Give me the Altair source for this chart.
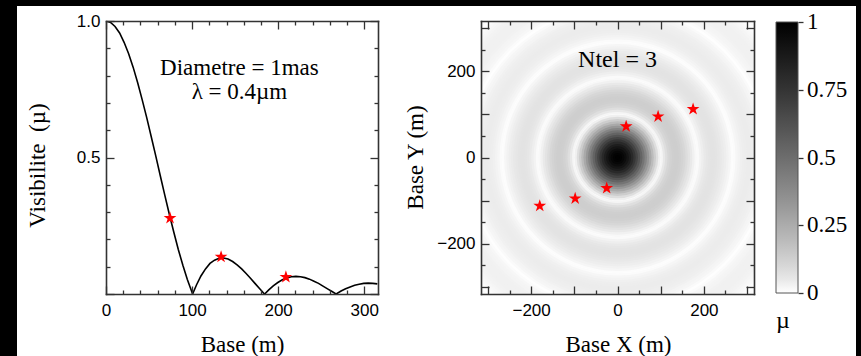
import altair as alt
import pandas as pd

SERIF = "Liberation Serif"
SANS = "Liberation Sans"
FRAME = "#333333"

# ---- visibility profile (base in m, visibility) ----
BASE_M = [0, 5.3, 10.5, 15.8, 21.0, 26.3, 31.5, 36.8, 42.0, 47.3, 52.5, 57.8, 63.0,
          68.3, 73.5, 78.8, 84.0, 89.3, 94.5, 99.8, 100.6, 105.1, 110.3, 115.6, 120.8,
          126.1, 131.3, 136.6, 141.8, 147.1, 152.3, 157.6, 162.8, 168.1, 173.3, 178.6,
          183.8, 184.3, 189.1, 194.3, 199.6, 204.9, 210.1, 215.4, 220.6, 225.9, 231.1,
          236.4, 241.6, 246.9, 252.1, 257.4, 262.6, 267.2, 267.9, 273.1, 278.4, 283.6,
          288.9, 294.1, 299.4, 304.6, 309.9, 315.2]
VIS = [1.0, 0.995, 0.980, 0.956, 0.922, 0.880, 0.831, 0.774, 0.712, 0.646, 0.577, 0.506,
       0.434, 0.362, 0.293, 0.226, 0.163, 0.105, 0.053, 0.007, 0.0, 0.033, 0.066, 0.092,
       0.112, 0.124, 0.131, 0.132, 0.128, 0.119, 0.107, 0.092, 0.075, 0.057, 0.038, 0.019,
       0.001, 0.0, 0.015, 0.030, 0.042, 0.052, 0.059, 0.063, 0.0645, 0.063, 0.060, 0.0545,
       0.047, 0.039, 0.029, 0.019, 0.009, 0.0, 0.001, 0.011, 0.019, 0.026, 0.032, 0.036,
       0.039, 0.040, 0.039, 0.037]
# continuation of the profile for the corners of the (u,v) map
BASE_OUTER = [320.4, 325.7, 330.9, 336.2, 341.4, 346.7, 349.9, 351.9, 357.2, 362.4, 367.7,
              372.9, 378.2, 383.4, 388.7, 393.9, 399.2, 404.4, 409.7, 415.0, 420.2, 425.5,
              430.7, 432.6, 436.0, 441.2, 446.5, 451.7]
VIS_OUTER = [0.0337, 0.0291, 0.0236, 0.0174, 0.0108, 0.0041, 0.0, 0.0025, 0.0087, 0.0143,
             0.0191, 0.0229, 0.0257, 0.0274, 0.0279, 0.0273, 0.0257, 0.0232, 0.0198, 0.0158,
             0.0113, 0.0065, 0.0017, 0.0, 0.0030, 0.0075, 0.0115, 0.0149]

# ---- measured points (stars) ----
STAR_BASE = [74.4, 133.7, 209.0]
STAR_VIS = [0.278, 0.136, 0.062]
STAR_U = [20, 94, 175, -25, -98, -180]
STAR_V = [72, 95, 112, -71, -95, -112]

# ---- annotations ----
LEFT_TEXT = ["Diametre = 1mas", "\u03bb = 0.4\u00b5m"]
LEFT_TEXT_X = [155, 155]
LEFT_TEXT_Y = [0.828, 0.74]
RIGHT_TEXT = ["Ntel = 3"]
RIGHT_TEXT_X = [0]
RIGHT_TEXT_Y = [225]

X_TICKS_LEFT = [0, 20, 40, 60, 80, 100, 120, 140, 160, 180, 200, 220, 240, 260, 280, 300]
Y_TICKS_LEFT = [0, 0.1, 0.2, 0.3, 0.4, 0.5, 0.6, 0.7, 0.8, 0.9, 1.0]
UV_TICKS = [-300, -250, -200, -150, -100, -50, 0, 50, 100, 150, 200, 250, 300]
CBAR_TICKS = [0, 0.25, 0.5, 0.75, 1]
CBAR_LABEL_POS = [0.0005, 0.25, 0.5, 0.75, 0.9995]
# grey ramp of the colour bar (mu -> grey)
RAMP_MU = [0, 0.01, 0.02, 0.05, 0.1, 0.2, 0.35, 0.5, 0.75, 1]
RAMP_GREY = ["#ffffff", "#f8f8f8", "#f4f4f4", "#e8e8e8", "#d7d7d7", "#b9b9b9",
             "#919191", "#6d6d6d", "#343434", "#000000"]

STAR_PATH = ("M0,-1L0.2245,-0.309L0.9511,-0.309L0.3633,0.118L0.5878,0.809L0,0.382"
             "L-0.5878,0.809L-0.3633,0.118L-0.9511,-0.309L-0.2245,-0.309Z")

W_L, H = 272, 273
W_R = 273

profile = pd.DataFrame({"base": BASE_M, "vis": VIS})
stars_l = pd.DataFrame({"base": STAR_BASE, "vis": STAR_VIS})
stars_r = pd.DataFrame({"u": STAR_U, "v": STAR_V})
ann_l = pd.DataFrame({"x": LEFT_TEXT_X, "y": LEFT_TEXT_Y, "t": LEFT_TEXT})
ann_r = pd.DataFrame({"x": RIGHT_TEXT_X, "y": RIGHT_TEXT_Y, "t": RIGHT_TEXT})
cbar_ticks = pd.DataFrame({"m": CBAR_TICKS})

prof_b = BASE_M + BASE_OUTER
prof_v = VIS + VIS_OUTER
disks = pd.DataFrame({
    "r": prof_b[1:],
    "mu": [(a + b) / 2 for a, b in zip(prof_v[:-1], prof_v[1:])],
}).sort_values("r", ascending=False)

xs_l = alt.Scale(domain=[0, 316], nice=False, zero=False)
ys_l = alt.Scale(domain=[0, 1], nice=False)
uv = alt.Scale(domain=[-316, 316], nice=False, zero=False)


def tick_axis(orient, offset, values, test):
    return alt.Axis(orient=orient, offset=offset, values=values, labels=False, ticks=True,
                    tickSize={"condition": {"test": test, "value": 8}, "value": 4},
                    tickColor=FRAME, tickWidth=1.3, domain=True, domainColor=FRAME,
                    domainWidth=1.6, domainCap="square", grid=False, title=None, zindex=1)


def label_axis_x(values, title, title_x, fmt=None):
    kw = dict(orient="bottom", values=values, ticks=False, tickSize=0, domain=False,
              grid=False, labelFont=SANS, labelFontSize=17, labelColor="black",
              labelPadding=8, labelFlush=False, labelOverlap=False, title=title,
              titleFont=SERIF, titleFontSize=23, titleFontWeight="normal",
              titleColor="black", titleX=title_x, titleY=50, titleAlign="center",
              titleBaseline="middle", titleAngle=0, zindex=1)
    if fmt:
        kw["format"] = fmt
    return alt.Axis(**kw)


def label_axis_y(values, title, title_x, title_y, fmt=None):
    kw = dict(orient="left", values=values, ticks=False, tickSize=0, domain=False,
              grid=False, labelFont=SANS, labelFontSize=17, labelColor="black",
              labelPadding=6, labelFlush=False, labelOverlap=False, title=title,
              titleFont=SERIF, titleFontSize=23, titleFontWeight="normal",
              titleColor="black", titleX=title_x, titleY=title_y, titleAlign="center",
              titleBaseline="middle", titleAngle=270, zindex=1)
    if fmt:
        kw["format"] = fmt
    return alt.Axis(**kw)


# ---------------- left panel ----------------
bg = alt.Chart(pd.DataFrame({"k": [0]})).mark_rect(color="white").encode(
    x=alt.value(-89), x2=alt.value(750), y=alt.value(-15), y2=alt.value(335))

line = alt.Chart(profile).mark_line(color="black", strokeWidth=1.6, clip=True).encode(
    x=alt.X("base:Q", scale=xs_l, axis=label_axis_x([0, 100, 200, 300], "Base (m)", 136)),
    y=alt.Y("vis:Q", scale=ys_l,
            axis=label_axis_y([0.5, 1.0], "Visibilite\u00a0 (\u00b5)", -69, 144, ".1f")),
)

xtest = "datum.value % 100 === 0"
ytest = "abs(datum.value * 2 - round(datum.value * 2)) < 0.001"
ticks_l1 = alt.Chart(profile).mark_line(strokeOpacity=0).encode(
    x=alt.X("base:Q", scale=xs_l, axis=tick_axis("top", -H, X_TICKS_LEFT, xtest)),
    y=alt.Y("vis:Q", scale=ys_l, axis=tick_axis("right", -W_L, Y_TICKS_LEFT, ytest)),
)
ticks_l2 = alt.Chart(profile).mark_line(strokeOpacity=0).encode(
    x=alt.X("base:Q", scale=xs_l, axis=tick_axis("bottom", -H, X_TICKS_LEFT, xtest)),
    y=alt.Y("vis:Q", scale=ys_l, axis=tick_axis("left", -W_L, Y_TICKS_LEFT, ytest)),
)

text_l = alt.Chart(ann_l).mark_text(font=SERIF, fontSize=23, color="black").encode(
    x=alt.X("x:Q", scale=xs_l, axis=None), y=alt.Y("y:Q", scale=ys_l, axis=None), text="t:N")

star_l = alt.Chart(stars_l).mark_point(shape=STAR_PATH, filled=True, color="#ff0000",
                                       size=180, opacity=1).encode(
    x=alt.X("base:Q", scale=xs_l, axis=None), y=alt.Y("vis:Q", scale=ys_l, axis=None))

left = alt.layer(bg, line, ticks_l1, ticks_l2, text_l, star_l).resolve_axis(
    x="independent", y="independent").properties(width=W_L, height=H)

# ---------------- right panel ----------------
cscale = alt.Scale(type="linear", domain=RAMP_MU, range=RAMP_GREY, interpolate="rgb")
legend = alt.Legend(orient="none", legendX=670, legendY=1, direction="vertical",
                    gradientLength=271, gradientThickness=22, gradientStrokeColor="#555555",
                    gradientStrokeWidth=1, values=CBAR_LABEL_POS,
                    labelExpr="format(datum.value, '.2~f')", labelFont=SERIF,
                    labelFontSize=23, labelColor="black", labelOffset=9,
                    labelOverlap=False, title="\u00a0\u00b5", titleOrient="bottom",
                    titleFont=SERIF, titleFontSize=24, titleFontWeight="normal",
                    titleColor="black", titleAnchor="start", titlePadding=4, padding=0)

arcs = alt.Chart(disks).mark_arc(clip=True, strokeWidth=0).encode(
    theta=alt.value(0),
    theta2=alt.value(6.2832),
    radius=alt.Radius("r:Q", stack=False,
                      scale=alt.Scale(type="linear", domain=[0, 316],
                                      range=[0, W_R / 2], zero=True)),
    color=alt.Color("mu:Q", scale=cscale, legend=legend),
)

utest = "datum.value % 100 === 0"
star_r = alt.Chart(stars_r).mark_point(shape=STAR_PATH, filled=True, color="#ff0000",
                                       size=180, opacity=1).encode(
    x=alt.X("u:Q", scale=uv, axis=label_axis_x([-200, 0, 200], "Base X (m)", 137)),
    y=alt.Y("v:Q", scale=uv, axis=label_axis_y([-200, 0, 200], "Base Y (m)", -66, 136)),
)
ticks_r1 = alt.Chart(stars_r).mark_point(opacity=0).encode(
    x=alt.X("u:Q", scale=uv, axis=tick_axis("top", -H, UV_TICKS, utest)),
    y=alt.Y("v:Q", scale=uv, axis=tick_axis("right", -W_R, UV_TICKS, utest)),
)
ticks_r2 = alt.Chart(stars_r).mark_point(opacity=0).encode(
    x=alt.X("u:Q", scale=uv, axis=tick_axis("bottom", -H, UV_TICKS, utest)),
    y=alt.Y("v:Q", scale=uv, axis=tick_axis("left", -W_R, UV_TICKS, utest)),
)
text_r = alt.Chart(ann_r).mark_text(font=SERIF, fontSize=24, color="black").encode(
    x=alt.X("x:Q", scale=uv, axis=None), y=alt.Y("y:Q", scale=uv, axis=None), text="t:N")

# small outward ticks on the right side of the colour bar
cbar_tick_layer = alt.Chart(cbar_ticks).mark_point(opacity=0).encode(
    y=alt.Y("m:Q", scale=alt.Scale(domain=[0, 1], range=[272, 1], nice=False),
            axis=alt.Axis(orient="right", offset=44, values=CBAR_TICKS, labels=False,
                          ticks=True, tickSize=5, tickWidth=1.3, tickColor=FRAME,
                          domain=False, grid=False, title=None, zindex=1)),
)

right = alt.layer(arcs, ticks_r1, ticks_r2, text_r, star_r, cbar_tick_layer).resolve_scale(
    y="independent").resolve_axis(x="independent", y="independent").properties(
    width=W_R, height=H)

chart = alt.hconcat(left, right, spacing=103, bounds="flush").properties(
    background="black", padding={"left": 17, "top": 6, "right": 5, "bottom": 0}
).configure_view(strokeWidth=0)

chart.save("out.html", embed_options={"renderer": "svg", "actions": False})
